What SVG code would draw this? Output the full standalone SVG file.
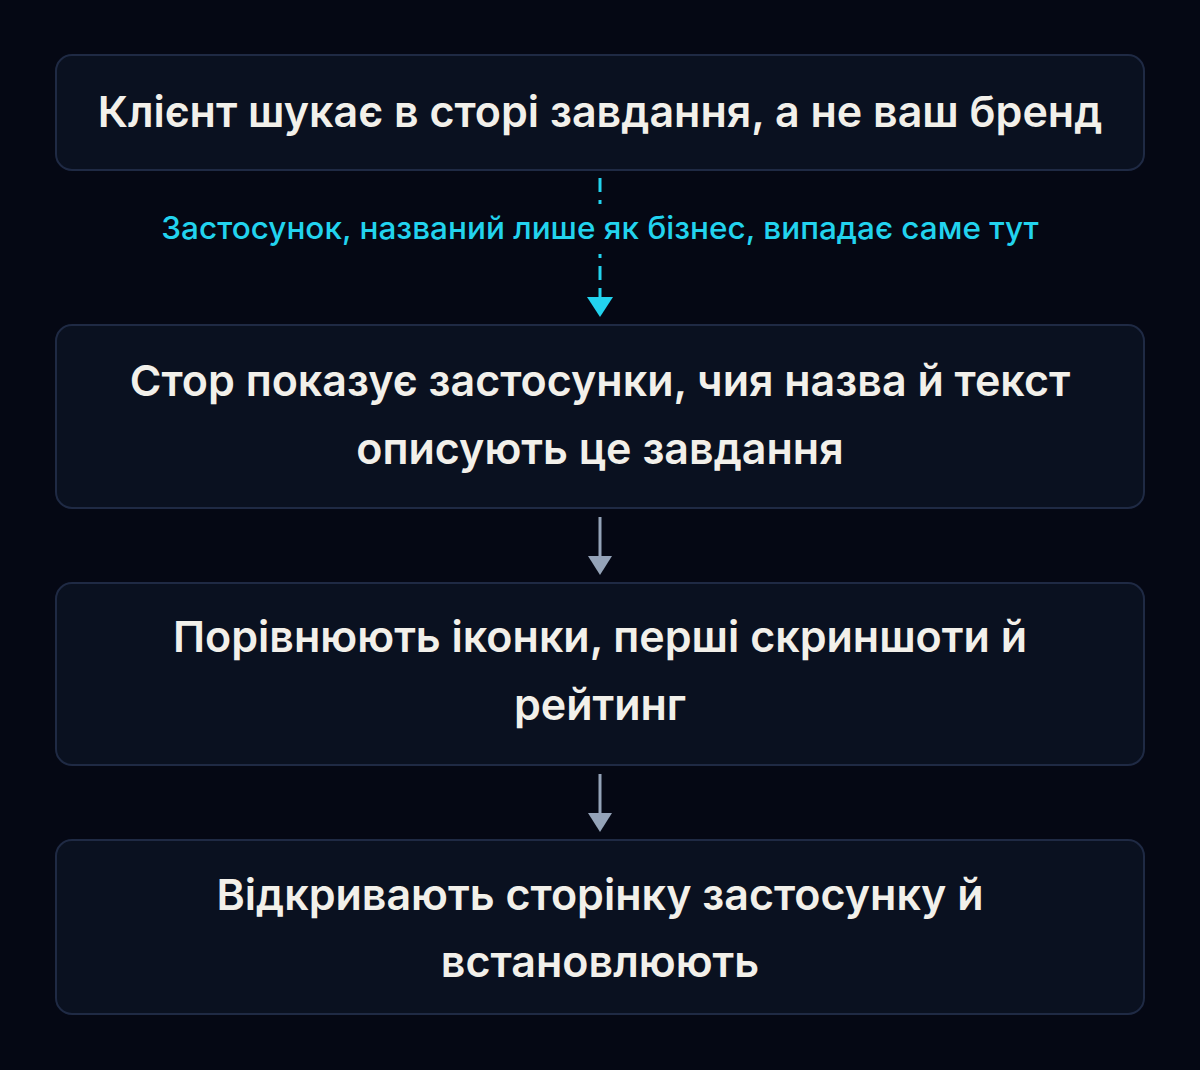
<svg xmlns="http://www.w3.org/2000/svg" width="1200" height="1070" viewBox="0 0 1200 1070">
<defs>
<style>
.bg{fill:#050814}
.box{fill:#0a1120;stroke:#1f2a44;stroke-width:2}
.t{font-family:Inter,"Noto Sans","DejaVu Sans",sans-serif;font-weight:600;font-size:43px;fill:#f2f0ea;text-anchor:middle}
.lbl{font-family:Inter,"Noto Sans","DejaVu Sans",sans-serif;font-weight:500;font-size:31.5px;fill:#22d3ee;text-anchor:middle}
.dash{stroke:#22d3ee;stroke-width:3;stroke-dasharray:14 8;fill:none}
.solid{stroke:#94a3b8;stroke-width:3;fill:none}
</style>
</defs>
<rect class="bg" x="0" y="0" width="1200" height="1070"/>
<g id="connectors">
<line class="dash" x1="600" y1="178" x2="600" y2="297"/>
<path d="M587 297 L613 297 L600 317 Z" fill="#22d3ee"/>
<rect x="150" y="204" width="900" height="50" fill="#050814"/>
<text class="lbl" x="600" y="239">Застосунок, названий лише як бізнес, випадає саме тут</text>
<line class="solid" x1="600" y1="517" x2="600" y2="557"/>
<path d="M588 556 L612 556 L600 575 Z" fill="#94a3b8"/>
<line class="solid" x1="600" y1="774" x2="600" y2="814"/>
<path d="M588 813 L612 813 L600 832 Z" fill="#94a3b8"/>
</g>
<g id="node1">
<rect class="box" x="56" y="55" width="1088" height="115" rx="16"/>
<text class="t" x="600" y="127">Клієнт шукає в сторі завдання, а не ваш бренд</text>
</g>
<g id="node2">
<rect class="box" x="56" y="325" width="1088" height="183" rx="16"/>
<text class="t" x="600" y="396">Стор показує застосунки, чия назва й текст</text>
<text class="t" x="600" y="464">описують це завдання</text>
</g>
<g id="node3">
<rect class="box" x="56" y="583" width="1088" height="182" rx="16"/>
<text class="t" x="600" y="652">Порівнюють іконки, перші скриншоти й</text>
<text class="t" x="600" y="720">рейтинг</text>
</g>
<g id="node4">
<rect class="box" x="56" y="840" width="1088" height="174" rx="16"/>
<text class="t" x="600" y="910">Відкривають сторінку застосунку й</text>
<text class="t" x="600" y="977">встановлюють</text>
</g>
</svg>
